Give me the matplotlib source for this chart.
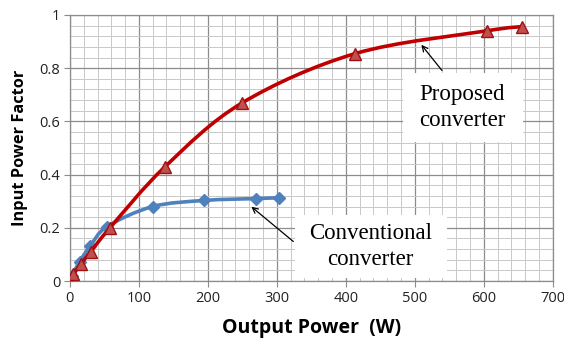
import numpy as np
import matplotlib
matplotlib.use("Agg")
import matplotlib.pyplot as plt
from matplotlib.path import Path
from matplotlib.patches import PathPatch, Rectangle
from matplotlib.ticker import MultipleLocator

# Data
conv_x = [3, 14, 29, 54, 120, 195, 270, 303]
conv_y = [0.02, 0.073, 0.13, 0.205, 0.28, 0.303, 0.31, 0.313]
prop_x = [5, 16, 30, 58, 138, 250, 414, 604, 655]
prop_y = [0.025, 0.065, 0.11, 0.2, 0.43, 0.67, 0.855, 0.94, 0.956]
x_ticks = [0, 100, 200, 300, 400, 500, 600, 700]
y_ticks = [0, 0.2, 0.4, 0.6, 0.8, 1]
y_tick_labels = ["0", "0.2", "0.4", "0.6", "0.8", "1"]

fig = plt.figure(figsize=(5.64, 3.47), dpi=100)
ax = fig.add_axes([0.124, 0.19, 0.856, 0.767])
ax.set_xlim(0, 700)
ax.set_ylim(0, 1)


def smooth_path(xs, ys, t=0.5 / 3):
    """Excel-like smoothed line: Catmull-Rom spline as cubic Bezier segments (display coords)."""
    pts = ax.transData.transform(np.column_stack([xs, ys]))
    verts = [pts[0]]
    codes = [Path.MOVETO]
    n = len(pts)
    for i in range(n - 1):
        p0 = pts[i - 1] if i > 0 else pts[i]
        p1 = pts[i]
        p2 = pts[i + 1]
        p3 = pts[i + 2] if i + 2 < n else pts[i + 1]
        c1 = p1 + (p2 - p0) * t
        c2 = p2 - (p3 - p1) * t
        verts += [c1, c2, p2]
        codes += [Path.CURVE4] * 3
    return Path(verts, codes)


# grid
ax.xaxis.set_major_locator(MultipleLocator(100))
ax.xaxis.set_minor_locator(MultipleLocator(20))
ax.yaxis.set_major_locator(MultipleLocator(0.2))
ax.yaxis.set_minor_locator(MultipleLocator(0.04))
ax.grid(which="major", color="#8c8c8c", linewidth=0.9)
ax.grid(which="minor", color="#c8c8c8", linewidth=0.7)
ax.set_axisbelow(True)

for sp in ax.spines.values():
    sp.set_color("#8c8c8c")
    sp.set_linewidth(0.9)

ax.set_xticks(x_ticks)
ax.set_yticks(y_ticks)
ax.set_yticklabels(y_tick_labels)
ax.tick_params(which="major", length=4, color="#8c8c8c", labelsize=10.5, pad=3)
ax.tick_params(which="minor", length=0)
for lab in ax.get_xticklabels() + ax.get_yticklabels():
    lab.set_fontfamily("Open Sans")
    lab.set_color("#222222")

fig.canvas.draw()

blue = "#4F81BD"
red = "#C00000"
p1 = PathPatch(smooth_path(conv_x, conv_y), facecolor="none", edgecolor=blue,
               linewidth=2.6, transform=None, capstyle="round", zorder=3)
ax.add_patch(p1)
ax.plot(conv_x, conv_y, linestyle="none", marker="D", markersize=6.5,
        color=blue, markeredgecolor=blue, zorder=4)

p2 = PathPatch(smooth_path(prop_x, prop_y), facecolor="none", edgecolor=red,
               linewidth=2.6, transform=None, capstyle="round", zorder=5)
ax.add_patch(p2)
ax.plot(prop_x, prop_y, linestyle="none", marker="^", markersize=8.5,
        color="#C0504D", markeredgecolor="#A01010", markeredgewidth=1.0, zorder=6)

ax.set_xlabel("Output Power  (W)", fontsize=14, fontweight="bold",
              fontfamily="Open Sans", labelpad=9)
ax.set_ylabel("Input Power Factor", fontsize=11.8, fontweight="bold",
              fontfamily="Open Sans", labelpad=8)

# annotations
ax.annotate("", xy=(507, 0.896), xytext=(542, 0.783),
            arrowprops=dict(arrowstyle="->", color="black", lw=0.9), zorder=7)
ax.add_patch(Rectangle((483, 0.523), 174, 0.259, facecolor="white",
                       edgecolor="none", zorder=7.5))
ax.text(569, 0.652, "Proposed\nconverter", fontsize=16.5, fontfamily="Liberation Serif",
        ha="center", va="center", linespacing=1.35, zorder=8)
ax.annotate("", xy=(260, 0.286), xytext=(327, 0.142),
            arrowprops=dict(arrowstyle="->", color="black", lw=0.9), zorder=7)
ax.add_patch(Rectangle((326, 0.011), 220, 0.237, facecolor="white",
                       edgecolor="none", zorder=7.5))
ax.text(436, 0.13, "Conventional\nconverter", fontsize=16.5, fontfamily="Liberation Serif",
        ha="center", va="center", linespacing=1.35, zorder=8)

fig.savefig("out.png", dpi=100)
